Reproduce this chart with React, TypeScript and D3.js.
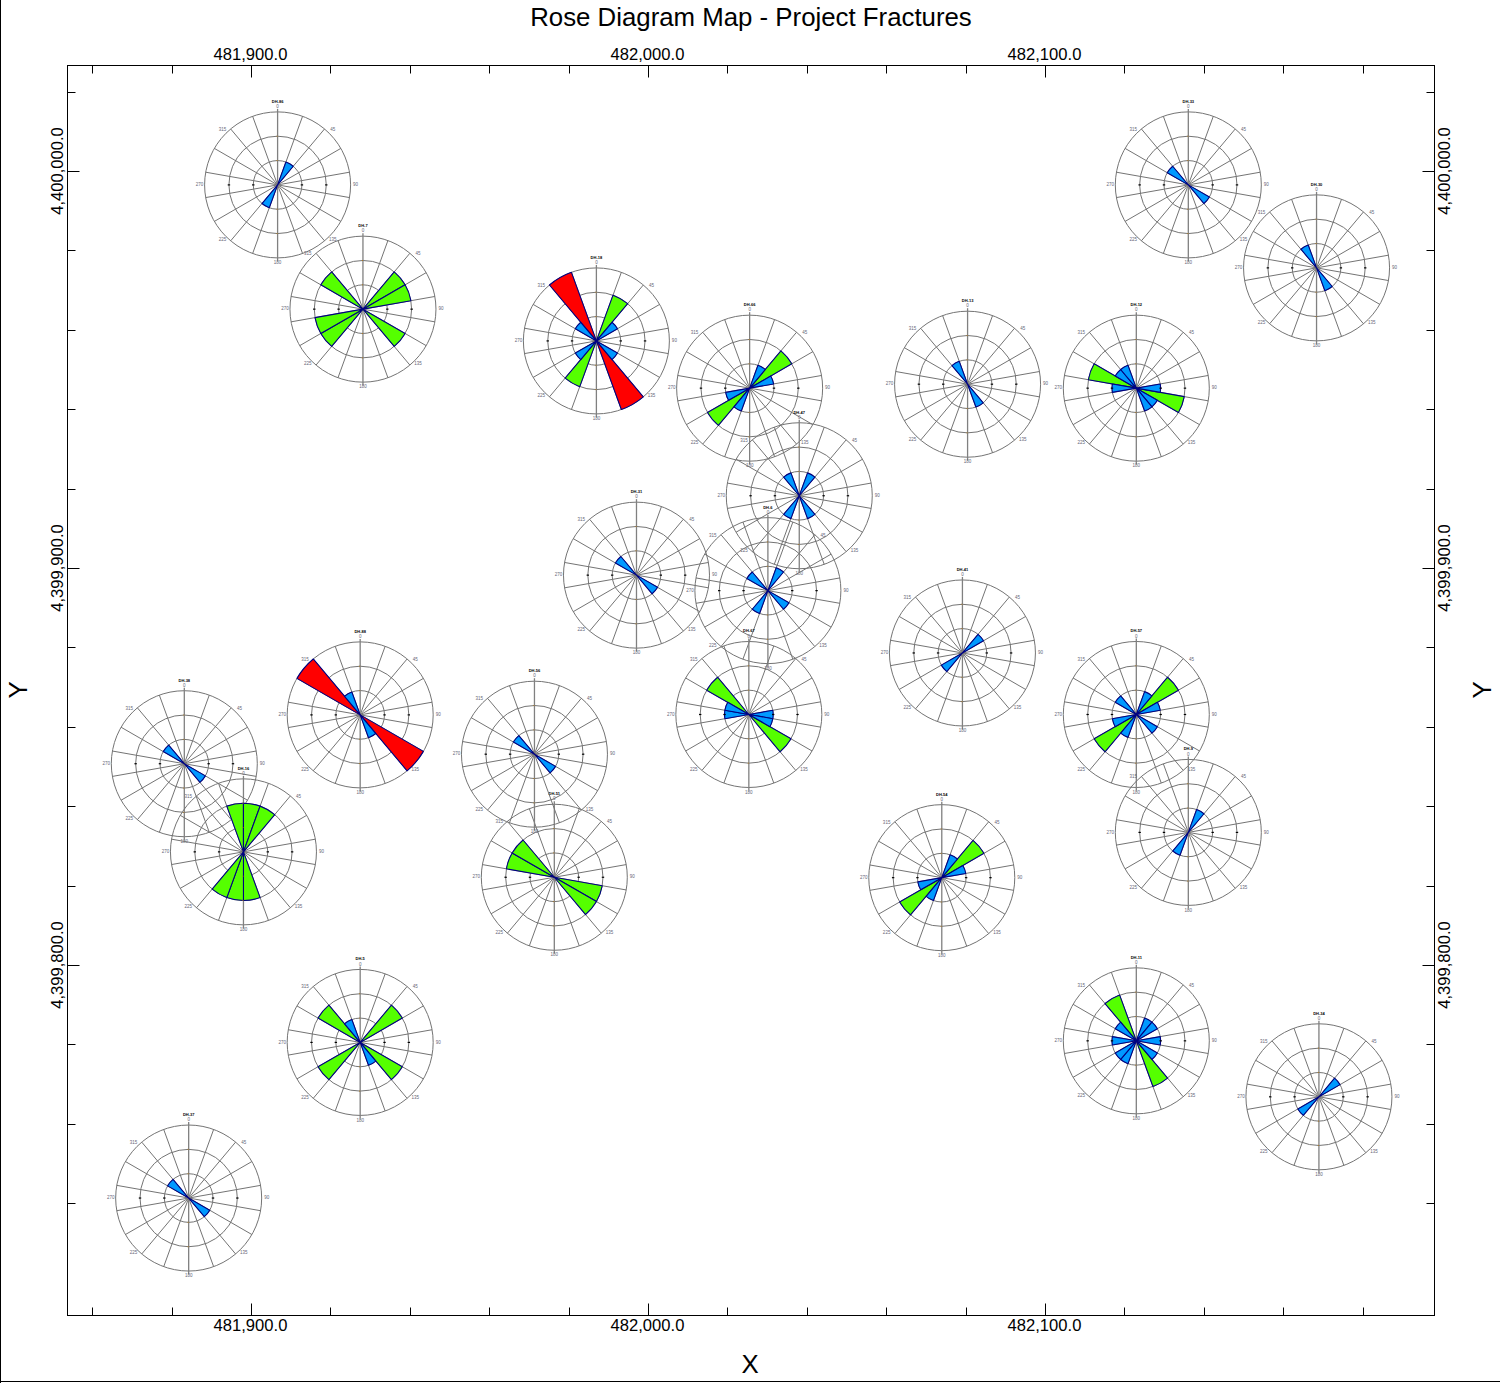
import React from "react";
import * as d3 from "d3";

const chartTitle = "Rose Diagram Map - Project Fractures";
const xMajorTicks = [481900, 482000, 482100];
const yMajorTicks = [4399800, 4399900, 4400000];
const xAllTicks = [481860, 481880, 481900, 481920, 481940, 481960, 481980, 482000, 482020, 482040, 482060, 482080, 482100, 482120, 482140, 482160, 482180];
const yAllTicks = [4399740, 4399760, 4399780, 4399800, 4399820, 4399840, 4399860, 4399880, 4399900, 4399920, 4399940, 4399960, 4399980, 4400000, 4400020];

const roseNames = ["DH-86", "DH-7", "DH-18", "DH-66", "DH-47", "DH-31", "DH-6", "DH-67", "DH-41", "DH-13", "DH-12", "DH-33", "DH-30", "DH-57", "DH-9", "DH-11", "DH-34", "DH-54", "DH-51", "DH-56", "DH-88", "DH-38", "DH-16", "DH-5", "DH-37"];
const roseEast = [481906.7, 481928.2, 481987.0, 482025.6, 482038.1, 481997.1, 482030.2, 482025.4, 482079.2, 482080.5, 482123.0, 482136.1, 482168.4, 482123.0, 482136.1, 482123.0, 482169.0, 482074.0, 481976.4, 481971.4, 481927.5, 481883.2, 481898.1, 481927.5, 481884.3];
const roseNorth = [4399996.5, 4399965.2, 4399957.2, 4399945.3, 4399918.2, 4399898.2, 4399894.3, 4399863.1, 4399878.6, 4399946.3, 4399945.3, 4399996.5, 4399975.6, 4399863.1, 4399833.4, 4399780.9, 4399766.8, 4399822.0, 4399822.1, 4399853.1, 4399863.0, 4399850.7, 4399828.5, 4399780.5, 4399741.3];

// Each rose: [bin start azimuth, fracture count] for its 20-degree bins.
const roseBins: [number, number][][] = [
  [[20, 1], [200, 1]],
  [[40, 2], [60, 2], [120, 2], [220, 2], [240, 2], [300, 2]],
  [[320, 3], [140, 3], [20, 2], [200, 2], [40, 1], [120, 1], [300, 1], [220, 1]],
  [[40, 2], [220, 2], [20, 1], [60, 1], [240, 1], [200, 1]],
  [[20, 1], [140, 1], [200, 1], [320, 1]],
  [[300, 1], [120, 1]],
  [[300, 1], [20, 1], [120, 1], [200, 1]],
  [[300, 2], [120, 2], [260, 1], [280, 1], [80, 1], [100, 1]],
  [[40, 1], [220, 1]],
  [[320, 1], [140, 1]],
  [[280, 2], [100, 2], [300, 1], [320, 1], [80, 1], [260, 1], [120, 1], [140, 1]],
  [[300, 1], [120, 1]],
  [[320, 1], [140, 1]],
  [[40, 2], [220, 2], [20, 1], [60, 1], [120, 1], [300, 1], [240, 1], [200, 1]],
  [[20, 1], [200, 1]],
  [[320, 2], [140, 2], [20, 1], [40, 1], [80, 1], [260, 1], [120, 1], [200, 1], [220, 1], [300, 1]],
  [[40, 1], [220, 1]],
  [[40, 2], [220, 2], [20, 1], [60, 1], [240, 1], [200, 1]],
  [[280, 2], [300, 2], [100, 2], [120, 2]],
  [[300, 1], [120, 1]],
  [[300, 3], [120, 3], [320, 1], [140, 1]],
  [[300, 1], [120, 1]],
  [[340, 2], [0, 2], [20, 2], [160, 2], [180, 2], [200, 2]],
  [[40, 2], [120, 2], [220, 2], [300, 2], [320, 1], [140, 1]],
  [[300, 1], [120, 1]],
];

const binColors = ["#0099ff", "#55ff00", "#ff0000"];
const spokeAngles = d3.range(0, 360, 20);
const ringCounts = [1, 2, 3];
const compassLabels = [0, 45, 90, 135, 180, 225, 270, 315];
const font = "'Liberation Sans', Arial, sans-serif";

const W = 1500, H = 1383;
const x = d3.scaleLinear().domain([481900, 482100]).range([251, 1045]);
const y = d3.scaleLinear().domain([4400000, 4399800]).range([171, 965]);
const box = { l: 67.5, r: 1434.5, t: 65.5, b: 1315.5 };
const rad = d3.scaleLinear().domain([0, 3]).range([0, 73]);
const fmt = d3.format(",.1f");
const arcGen = d3.arc();
const toRad = (deg: number) => (deg * Math.PI) / 180;

function Rose({ i }: { i: number }) {
  const cx = x(roseEast[i]), cy = y(roseNorth[i]);
  const R = rad(3);
  return (
    <g transform={`translate(${cx},${cy})`}>
      {ringCounts.map((c) => (
        <circle key={c} r={rad(c)} fill="none" stroke="#747474" strokeWidth={1} />
      ))}
      {spokeAngles.filter((a) => a % 180 !== 0).map((a) => (
        <line key={a} x1={0} y1={0} x2={R * Math.sin(toRad(a))} y2={-R * Math.cos(toRad(a))} stroke="#747474" strokeWidth={1} />
      ))}
      <line x1={0} x2={0} y1={-R - 3} y2={R + 3} stroke="#808080" strokeWidth={1.3} />
      {roseBins[i].map(([start, v]) => (
        <path
          key={start}
          d={arcGen({ innerRadius: 0, outerRadius: rad(v), startAngle: toRad(start), endAngle: toRad(start + 20) } as any) as string}
          fill={binColors[v - 1]}
          stroke="#000080"
          strokeWidth={1.1}
          strokeLinejoin="round"
        />
      ))}
      {ringCounts.slice(0, 2).map((c) => (
        <g key={c}>
          <line x1={rad(c) - 1.2} x2={rad(c) + 1.2} y1={0} y2={0} stroke="#000" strokeWidth={1.2} />
          <line x1={-rad(c) - 1.2} x2={-rad(c) + 1.2} y1={0} y2={0} stroke="#000" strokeWidth={1.2} />
          <line x1={-1} x2={0} y1={-rad(c)} y2={-rad(c)} stroke="#b07a20" strokeWidth={1} />
          <line x1={-1} x2={0} y1={rad(c)} y2={rad(c)} stroke="#b07a20" strokeWidth={1} />
        </g>
      ))}
      {compassLabels.map((a) => (
        <text
          key={a}
          x={(R + 5) * Math.sin(toRad(a))}
          y={-(R + 5) * Math.cos(toRad(a))}
          fontSize={4.5}
          fontFamily={font}
          fill="#667"
          textAnchor="middle"
          dominantBaseline="middle"
        >
          {a}
        </text>
      ))}
      <text y={-R - 9} fontSize={4} fontFamily={font} fontWeight="bold" fill="#000" textAnchor="middle">
        {roseNames[i]}
      </text>
    </g>
  );
}

export default function App() {
  const tickLen = (major: boolean) => (major ? 12 : 8);
  return (
    <svg width={W} height={H} viewBox={`0 0 ${W} ${H}`} style={{ position: "absolute", left: 0, top: 0, display: "block", background: "#fff" }}>
      <line x1={0.5} x2={0.5} y1={0} y2={H} stroke="#000" strokeWidth={1} />
      <line x1={0} x2={W} y1={H - 1.5} y2={H - 1.5} stroke="#000" strokeWidth={1} />
      <text x={751} y={26} textAnchor="middle" fontSize={25.8} fontFamily={font} fill="#000">{chartTitle}</text>
      <rect x={box.l} y={box.t} width={box.r - box.l} height={box.b - box.t} fill="#fff" stroke="#000" strokeWidth={1} />
      {xAllTicks.map((t) => {
        const p = Math.round(x(t)) + 0.5;
        const L = tickLen(xMajorTicks.includes(t));
        return (
          <g key={t}>
            <line x1={p} x2={p} y1={box.t} y2={box.t + L} stroke="#000" />
            <line x1={p} x2={p} y1={box.b} y2={box.b - L} stroke="#000" />
          </g>
        );
      })}
      {yAllTicks.map((t) => {
        const p = Math.round(y(t)) + 0.5;
        const L = tickLen(yMajorTicks.includes(t));
        return (
          <g key={t}>
            <line y1={p} y2={p} x1={box.l} x2={box.l + L} stroke="#000" />
            <line y1={p} y2={p} x1={box.r} x2={box.r - L} stroke="#000" />
          </g>
        );
      })}
      {xMajorTicks.map((t) => (
        <g key={t} fontSize={16.6} fontFamily={font} textAnchor="middle" fill="#000">
          <text x={x(t) - 0.5} y={60}>{fmt(t)}</text>
          <text x={x(t) - 0.5} y={1331}>{fmt(t)}</text>
        </g>
      ))}
      {yMajorTicks.map((t) => (
        <g key={t} fontSize={16.6} fontFamily={font} textAnchor="middle" fill="#000">
          <text transform={`translate(63,${y(t)}) rotate(-90)`}>{fmt(t)}</text>
          <text transform={`translate(1450,${y(t)}) rotate(-90)`}>{fmt(t)}</text>
        </g>
      ))}
      <text x={750} y={1373} textAnchor="middle" fontSize={25.8} fontFamily={font}>X</text>
      <text transform="translate(27,690) rotate(-90)" textAnchor="middle" fontSize={25.8} fontFamily={font}>Y</text>
      <text transform="translate(1491,690) rotate(-90)" textAnchor="middle" fontSize={25.8} fontFamily={font}>Y</text>
      {roseNames.map((_, i) => <Rose key={i} i={i} />)}
    </svg>
  );
}
